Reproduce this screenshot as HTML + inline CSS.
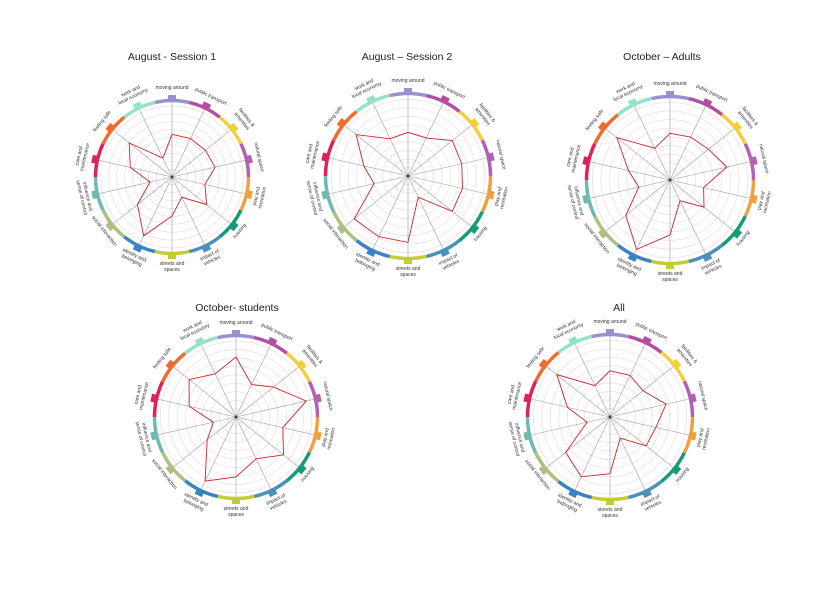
<!DOCTYPE html>
<html><head><meta charset="utf-8"><style>
html,body{margin:0;padding:0;background:#fff;}
svg{display:block;}
</style></head><body>
<svg id="s" width="840" height="594" xmlns="http://www.w3.org/2000/svg" font-family="Liberation Sans, sans-serif"></svg>
<script>
const cats=[["moving around"],["public transport"],["facilities &","amenities"],["natural space"],["play and","recreation"],["housing"],["impact of","vehicles"],["streets and","spaces"],["identity and","belonging"],["social interaction"],["influence and","sense of control"],["care and","maintenance"],["feeling safe"],["work and","local economy"]];
const cols=["#9a8fcf","#b44ea3","#f1cf3f","#b160b6","#f0a03e","#169b79","#4b91ba","#c3cd33","#3b82c2","#aebf82","#6fb9b1","#e0205b","#ef6c2f","#93e2c9"];
const charts=[
 {t:"August - Session 1",tx:172,ty:60,cx:172,cy:177,R:75,v:[.57,.57,.57,.59,.45,.59,.3,.52,.87,.59,.3,.57,.73,.28]},
 {t:"August \u2013 Session 2",tx:407,ty:60,cx:408,cy:176,R:81,v:[.54,.52,.7,.68,.69,.7,.29,.82,.83,.85,.43,.56,.82,.51]},
 {t:"October \u2013 Adults",tx:662,ty:60,cx:670,cy:180,R:82,v:[.57,.58,.6,.71,.42,.53,.28,.67,.94,.69,.39,.52,.83,.43]},
 {t:"October- students",tx:237,ty:311,cx:236,cy:417,R:80,v:[.75,.45,.6,.9,.6,.76,.58,.75,.89,.46,.29,.6,.75,.6]},
 {t:"All",tx:619,ty:311,cx:610,cy:417,R:81,v:[.57,.57,.52,.71,.58,.57,.29,.7,.82,.7,.29,.54,.84,.43]}
];
let h="";
const N=14,st=2*Math.PI/N;
function P(cx,cy,r,a){return [cx+r*Math.sin(a),cy-r*Math.cos(a)];}
for(const c of charts){
 const {cx,cy,R}=c;
 h+=`<text x="${c.tx}" y="${c.ty}" font-size="10.5" text-anchor="middle" fill="#222">${c.t}</text>`;
 for(let k=1;k<=9;k++)h+=`<circle cx="${cx}" cy="${cy}" r="${(R*k/9.5).toFixed(1)}" fill="none" stroke="#ecdcdc" stroke-width="0.7"/>`;
 for(let i=0;i<N;i++){const p=P(cx,cy,R,i*st);h+=`<line x1="${cx}" y1="${cy}" x2="${p[0].toFixed(1)}" y2="${p[1].toFixed(1)}" stroke="#a0a0a0" stroke-width="0.6"/>`;}
 for(let i=0;i<N;i++){
  const a0=(i-0.5)*st,a1=(i+0.5)*st;const p0=P(cx,cy,R+1.5,a0),p1=P(cx,cy,R+1.5,a1);
  h+=`<path d="M${p0[0]},${p0[1]} A${R+1.5},${R+1.5} 0 0 1 ${p1[0]},${p1[1]}" fill="none" stroke="${cols[i]}" stroke-width="3.5"/>`;
  const deg=i*360/N;
  h+=`<rect x="${cx-4}" y="${cy-R-7}" width="8" height="6" fill="${cols[i]}" transform="rotate(${deg} ${cx} ${cy})"/>`;
  const lines=cats[i];const bottom=deg>95&&deg<265;
  const lr=R+13;
  if(!bottom){
   lines.forEach((ln,j)=>{const rr=lr+(lines.length-1-j)*6;
    h+=`<text x="${cx}" y="${cy-rr}" font-size="5" text-anchor="middle" fill="#333" transform="rotate(${deg} ${cx} ${cy})">${ln}</text>`;});
  }else{
   lines.forEach((ln,j)=>{const rr=lr+j*6;
    h+=`<text x="${cx}" y="${cy+rr}" font-size="5" text-anchor="middle" fill="#333" transform="rotate(${deg-180} ${cx} ${cy})">${ln}</text>`;});
  }
 }
 let pts=c.v.map((v,i)=>P(cx,cy,R*v,i*st).map(x=>x.toFixed(1)).join(",")).join(" ");
 h+=`<polygon points="${pts}" fill="none" stroke="#c8282a" stroke-width="0.9"/>`;
 h+=`<circle cx="${cx}" cy="${cy}" r="1.5" fill="#444"/>`;
}
document.getElementById("s").innerHTML=h;
</script>
</body></html>
